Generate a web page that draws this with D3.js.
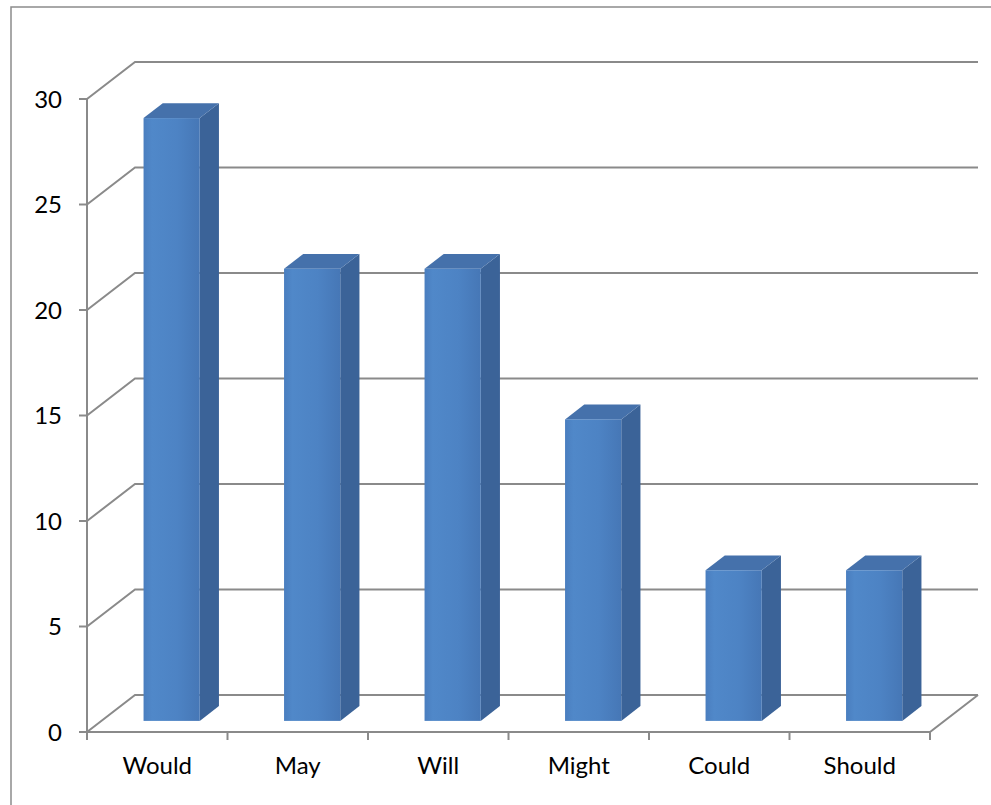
<!DOCTYPE html>
<html>
<head>
<meta charset="utf-8">
<script src="https://cdn.jsdelivr.net/npm/d3@7"></script>
<style>
  body { margin: 0; background: #fff; }
  svg text { font-family: Lato, "Open Sans", sans-serif; fill: #000; }
</style>
</head>
<body>
<div id="chart"></div>
<script>
// data
const categories = ["Would", "May", "Will", "Might", "Could", "Should"];
const values = [28.57, 21.43, 21.43, 14.29, 7.14, 7.14];
const yTicks = [0, 5, 10, 15, 20, 25, 30];

const width = 991, height = 805;

// front plane of the 3d box
const plot = {left: 87, right: 930, top: 99, bottom: 732};
// depth offset of the back wall
const depthX = 48, depthY = -37;

const svg = d3.select("#chart")
    .append("svg")
    .attr("width", width)
    .attr("height", height);

const defs = svg.append("defs");
const grad = defs.append("linearGradient")
    .attr("id", "frontGrad")
    .attr("x1", "0").attr("x2", "1").attr("y1", "0").attr("y2", "0");
grad.append("stop").attr("offset", "0").attr("stop-color", "#4a7ebf");
grad.append("stop").attr("offset", "0.15").attr("stop-color", "#5088c9");
grad.append("stop").attr("offset", "0.6").attr("stop-color", "#4d83c4");
grad.append("stop").attr("offset", "1").attr("stop-color", "#4677b6");

// outer frame (left and top only visible)
svg.append("path")
    .attr("d", "M11," + height + "V7H" + width)
    .attr("fill", "none")
    .attr("stroke", "#8c8c8c")
    .attr("stroke-width", 1.5);

const x = d3.scaleBand()
    .domain(categories)
    .range([plot.left, plot.right])
    .padding(0);

const y = d3.scaleLinear()
    .domain([0, 30])
    .range([plot.bottom, plot.top]);

// project a point at depth d (0 = front, 1 = back)
function px(xv, d) { return xv + d * depthX; }
function py(yv, d) { return yv + d * depthY; }

const gridColor = "#8a8a8a";

// gridlines: diagonal on side wall + horizontal on back wall
const grid = svg.append("g");
yTicks.forEach(function(t) {
    grid.append("path")
        .attr("d", "M" + plot.left + "," + y(t) +
            "L" + px(plot.left, 1) + "," + py(y(t), 1) +
            "H" + px(plot.right, 1))
        .attr("fill", "none")
        .attr("stroke", gridColor)
        .attr("stroke-width", 2);
});

// floor front and right edges
grid.append("path")
    .attr("d", "M" + plot.left + "," + y(0) + "H" + plot.right +
        "L" + px(plot.right, 1) + "," + py(y(0), 1))
    .attr("fill", "none")
    .attr("stroke", gridColor)
    .attr("stroke-width", 2);

// y axis line
grid.append("line")
    .attr("x1", plot.left).attr("x2", plot.left)
    .attr("y1", y(30)).attr("y2", y(0))
    .attr("stroke", gridColor)
    .attr("stroke-width", 2);

// y ticks + labels
const yAxis = svg.append("g");
yTicks.forEach(function(t) {
    yAxis.append("line")
        .attr("x1", plot.left - 8).attr("x2", plot.left)
        .attr("y1", y(t)).attr("y2", y(t))
        .attr("stroke", gridColor)
        .attr("stroke-width", 2);
    yAxis.append("text")
        .attr("x", 62)
        .attr("y", y(t))
        .attr("dy", "0.36em")
        .attr("text-anchor", "end")
        .style("font-size", "24px")
        .text(t);
});

// x ticks at category boundaries + labels
const xAxis = svg.append("g");
categories.forEach(function(c) {
    xAxis.append("line")
        .attr("x1", x(c)).attr("x2", x(c))
        .attr("y1", y(0)).attr("y2", y(0) + 8)
        .attr("stroke", gridColor)
        .attr("stroke-width", 2);
    xAxis.append("text")
        .attr("x", x(c) + x.bandwidth() / 2)
        .attr("y", 774)
        .attr("text-anchor", "middle")
        .style("font-size", "24px")
        .text(c);
});
xAxis.append("line")
    .attr("x1", plot.right).attr("x2", plot.right)
    .attr("y1", y(0)).attr("y2", y(0) + 8)
    .attr("stroke", gridColor)
    .attr("stroke-width", 2);

// 3d bars
const dFront = 0.3, dBack = 0.7;
const barW = x.bandwidth() * 0.4;

const bars = svg.append("g")
    .selectAll("g")
    .data(categories.map(function(c, i) { return {name: c, value: values[i]}; }))
    .enter()
    .append("g");

// right side face
bars.append("path")
    .attr("d", function(d) {
        const x1 = x(d.name) + x.bandwidth() / 2 + barW / 2;
        return "M" + px(x1, dFront) + "," + py(y(d.value), dFront) +
            "L" + px(x1, dBack) + "," + py(y(d.value), dBack) +
            "L" + px(x1, dBack) + "," + py(y(0), dBack) +
            "L" + px(x1, dFront) + "," + py(y(0), dFront) + "Z";
    })
    .attr("fill", "#3b6398");

// top face
bars.append("path")
    .attr("d", function(d) {
        const x0 = x(d.name) + x.bandwidth() / 2 - barW / 2;
        const x1 = x0 + barW;
        const yv = y(d.value);
        return "M" + px(x0, dFront) + "," + py(yv, dFront) +
            "L" + px(x0, dBack) + "," + py(yv, dBack) +
            "L" + px(x1, dBack) + "," + py(yv, dBack) +
            "L" + px(x1, dFront) + "," + py(yv, dFront) + "Z";
    })
    .attr("fill", "#4571ab");

// front face
bars.append("rect")
    .attr("x", function(d) { return px(x(d.name) + x.bandwidth() / 2 - barW / 2, dFront); })
    .attr("y", function(d) { return py(y(d.value), dFront); })
    .attr("width", barW)
    .attr("height", function(d) { return y(0) - y(d.value); })
    .attr("fill", "url(#frontGrad)");
</script>
</body>
</html>
